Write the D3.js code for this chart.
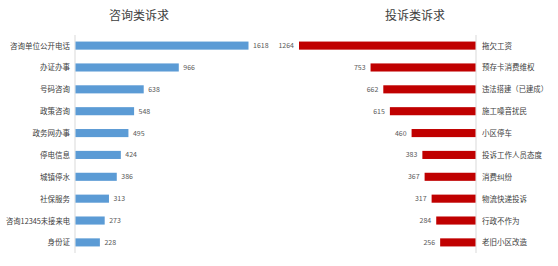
<html>
<head>
<meta charset="utf-8" />
<script src="https://cdn.jsdelivr.net/npm/d3@7"></script>
<style>
  html, body { margin: 0; padding: 0; background: #fff; }
  svg text { font-family: "Noto Sans CJK SC", sans-serif; }
</style>
</head>
<body>
<svg width="558" height="266" id="mainsvg"></svg>
<script>
  // consultation side
  const leftCats = ["咨询单位公开电话", "办证办事", "号码咨询", "政策咨询", "政务网办事", "停电信息", "城镇停水", "社保服务", "咨询12345未接来电", "身份证"];
  const leftVals = [1618, 966, 638, 548, 495, 424, 386, 313, 273, 228];
  // complaint side
  const rightCats = ["拖欠工资", "预存卡消费维权", "违法搭建（已建成）", "施工噪音扰民", "小区停车", "投诉工作人员态度", "消费纠纷", "物流快递投诉", "行政不作为", "老旧小区改造"];
  const rightVals = [1264, 753, 662, 615, 460, 383, 367, 317, 284, 256];

  const svg = d3.select("#mainsvg");
  const plotTop = 35, plotBottom = 253;

  // squeeze labels that are too wide
  function fit(sel, maxW) {
    sel.each(function () {
      const w = this.getComputedTextLength();
      if (w > maxW) {
        d3.select(this).attr("textLength", maxW).attr("lengthAdjust", "spacingAndGlyphs");
      }
    });
  }

  // left chart
  const yL = d3.scaleBand().domain(leftCats).range([plotTop, plotBottom]).paddingInner(0.63).paddingOuter(0.3);
  const xL = d3.scaleLinear().domain([0, 1618]).range([75, 248]);

  svg.append("text").attr("x", 139).attr("y", 20).attr("text-anchor", "middle")
    .attr("font-size", 12).attr("fill", "#404040").text("咨询类诉求");

  svg.append("line").attr("x1", 75).attr("x2", 75).attr("y1", plotTop).attr("y2", plotBottom)
    .attr("stroke", "#d9d9d9");

  const gL = svg.append("g");
  gL.selectAll("rect").data(leftVals).join("rect")
    .attr("x", xL(0) + 0.5)
    .attr("y", (d, i) => yL(leftCats[i]))
    .attr("width", d => xL(d) - xL(0))
    .attr("height", yL.bandwidth())
    .attr("fill", "#5b9bd5");
  gL.selectAll(".val").data(leftVals).join("text").attr("class", "val")
    .attr("x", d => xL(d) + 5)
    .attr("y", (d, i) => yL(leftCats[i]) + yL.bandwidth() / 2 + 2.5)
    .attr("font-size", 7).attr("fill", "#595959").text(d => d);
  gL.selectAll(".cat").data(leftCats).join("text").attr("class", "cat")
    .attr("x", 70).attr("y", d => yL(d) + yL.bandwidth() / 2 + 3)
    .attr("text-anchor", "end").attr("font-size", 7.5).attr("fill", "#404040").text(d => d)
    .call(fit, 64);

  // right chart
  const yR = d3.scaleBand().domain(rightCats).range([plotTop, plotBottom]).paddingInner(0.63).paddingOuter(0.3);
  const xR = d3.scaleLinear().domain([0, 1264]).range([476, 299]);

  svg.append("text").attr("x", 415).attr("y", 20).attr("text-anchor", "middle")
    .attr("font-size", 12).attr("fill", "#404040").text("投诉类诉求");

  svg.append("line").attr("x1", 476).attr("x2", 476).attr("y1", plotTop).attr("y2", plotBottom)
    .attr("stroke", "#d9d9d9");

  const gR = svg.append("g");
  gR.selectAll("rect").data(rightVals).join("rect")
    .attr("x", d => xR(d))
    .attr("y", (d, i) => yR(rightCats[i]))
    .attr("width", d => xR(0) - xR(d) - 0.5)
    .attr("height", yR.bandwidth())
    .attr("fill", "#c00000");
  gR.selectAll(".val").data(rightVals).join("text").attr("class", "val")
    .attr("x", d => xR(d) - 5)
    .attr("y", (d, i) => yR(rightCats[i]) + yR.bandwidth() / 2 + 2.5)
    .attr("text-anchor", "end").attr("font-size", 7).attr("fill", "#595959").text(d => d);
  gR.selectAll(".cat").data(rightCats).join("text").attr("class", "cat")
    .attr("x", 482).attr("y", d => yR(d) + yR.bandwidth() / 2 + 3)
    .attr("font-size", 7.5).attr("fill", "#404040").text(d => d)
    .call(fit, 66);
</script>
</body>
</html>
